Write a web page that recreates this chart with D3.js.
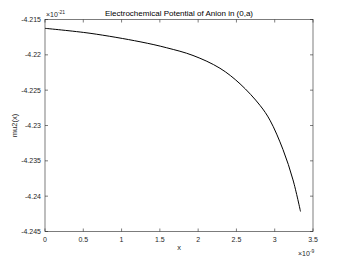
<!DOCTYPE html>
<html>
<head>
<meta charset="utf-8">
<script src="https://cdn.jsdelivr.net/npm/d3@7"></script>
<style>
  body { margin: 0; background: #fff; }
  svg text { font-family: "Liberation Sans", Arial, sans-serif; fill: #262626; }
</style>
</head>
<body>
<div id="chart"></div>
<script>
// x in units of 1e-9, mu2 in units of 1e-21
const xs = [0, 0.588, 1.241, 1.589, 1.933, 2.285, 2.547, 2.808, 2.938, 3.108, 3.239, 3.337];
const mu2 = [-4.21625, -4.21695, -4.21815, -4.21900, -4.22009, -4.22190, -4.22410, -4.22715, -4.22925, -4.23340, -4.23770, -4.24217];
const xTicks = [0, 0.5, 1, 1.5, 2, 2.5, 3, 3.5];
const yTicks = [-4.215, -4.22, -4.225, -4.23, -4.235, -4.24, -4.245];

const width = 346, height = 260;
const margin = { top: 19.5, right: 33, bottom: 28.5, left: 45 };

const svg = d3.select('#chart')
  .append('svg')
  .attr('width', width)
  .attr('height', height);

const x = d3.scaleLinear()
  .domain([0, 3.5])
  .range([margin.left, width - margin.right]);

const y = d3.scaleLinear()
  .domain([-4.245, -4.215])
  .range([height - margin.bottom, margin.top]);

const axisColor = '#262626';
const tickLen = 3;

// box
svg.append('rect')
  .attr('x', x(0))
  .attr('y', y(-4.215))
  .attr('width', x(3.5) - x(0))
  .attr('height', y(-4.245) - y(-4.215))
  .attr('fill', 'none')
  .attr('stroke', axisColor)
  .attr('stroke-width', 0.6);

// ticks pointing inward, on all four sides
const g = svg.append('g').attr('stroke', axisColor).attr('stroke-width', 0.6);
xTicks.forEach(t => {
  g.append('line').attr('x1', x(t)).attr('x2', x(t))
    .attr('y1', y(-4.245)).attr('y2', y(-4.245) - tickLen);
  g.append('line').attr('x1', x(t)).attr('x2', x(t))
    .attr('y1', y(-4.215)).attr('y2', y(-4.215) + tickLen);
});
yTicks.forEach(t => {
  g.append('line').attr('x1', x(0)).attr('x2', x(0) + tickLen)
    .attr('y1', y(t)).attr('y2', y(t));
  g.append('line').attr('x1', x(3.5)).attr('x2', x(3.5) - tickLen)
    .attr('y1', y(t)).attr('y2', y(t));
});

// tick labels
svg.append('g').selectAll('text')
  .data(xTicks)
  .join('text')
  .attr('x', d => x(d))
  .attr('y', y(-4.245) + 10)
  .attr('text-anchor', 'middle')
  .style('font-size', '7px')
  .text(d => d);

svg.append('g').selectAll('text')
  .data(yTicks)
  .join('text')
  .attr('x', x(0) - 4)
  .attr('y', d => y(d) + 2.5)
  .attr('text-anchor', 'end')
  .style('font-size', '7px')
  .text(d => d);

// exponents
const yExp = svg.append('text')
  .attr('x', x(0) + 1)
  .attr('y', y(-4.215) - 3)
  .style('font-size', '7px');
yExp.append('tspan').text('\u00d710');
yExp.append('tspan').attr('dy', -3).style('font-size', '5px').text('-21');

const xExp = svg.append('text')
  .attr('x', x(3.5) - 15)
  .attr('y', y(-4.245) + 24)
  .style('font-size', '7px');
xExp.append('tspan').text('\u00d710');
xExp.append('tspan').attr('dy', -3).style('font-size', '5px').text('-9');

// axis labels and title
svg.append('text')
  .attr('x', (x(0) + x(3.5)) / 2)
  .attr('y', y(-4.245) + 18)
  .attr('text-anchor', 'middle')
  .style('font-size', '7.5px')
  .text('x');

svg.append('text')
  .attr('transform', 'translate(17,' + ((y(-4.215) + y(-4.245)) / 2) + ') rotate(-90)')
  .attr('text-anchor', 'middle')
  .style('font-size', '7.5px')
  .text('mu2(x)');

svg.append('text')
  .attr('x', (x(0) + x(3.5)) / 2)
  .attr('y', y(-4.215) - 4)
  .attr('text-anchor', 'middle')
  .style('font-size', '8px')
  .style('fill', '#000')
  .text('Electrochemical Potential of Anion in (0,a)');

// curve
const line = d3.line()
  .x((d, i) => x(xs[i]))
  .y(d => y(d))
  .curve(d3.curveCatmullRom.alpha(0.5));

svg.append('path')
  .datum(mu2)
  .attr('d', line)
  .attr('fill', 'none')
  .attr('stroke', '#000')
  .attr('stroke-width', 1);
</script>
</body>
</html>
